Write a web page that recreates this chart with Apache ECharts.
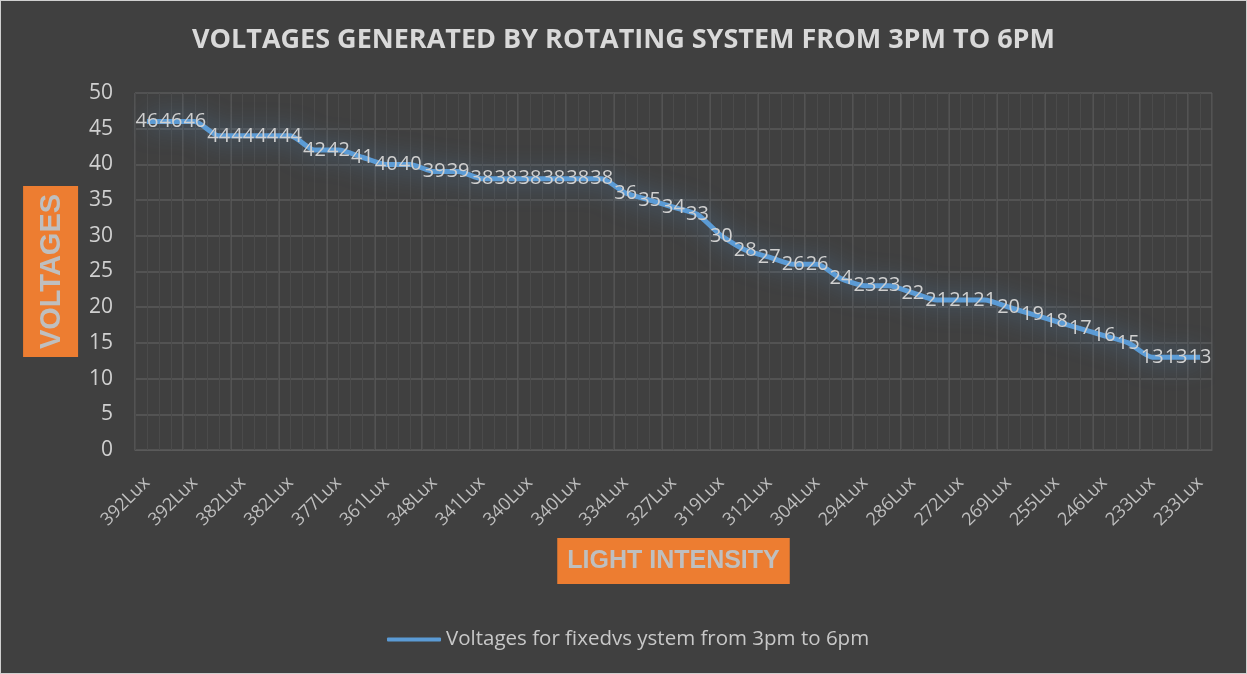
<!DOCTYPE html>
<html lang="en">

<head>
	<meta charset="UTF-8">
	<title>Voltages</title>
	<script src="https://cdn.jsdelivr.net/npm/echarts@6/dist/echarts.min.js"></script>
	<style>
		html, body {
			margin: 0;
			padding: 0;
			background-color: #404040;
		}

		#main {
			width: 1247px;
			height: 674px;
			box-sizing: border-box;
			border: 1px solid #d0d0d0;
		}
	</style>
</head>

<body>
	<div id="main"></div>

	<script>
		// light intensity for each reading (only every other one is labelled on the axis)
		const lux = [
			'392Lux', '', '392Lux', '', '382Lux', '', '382Lux', '', '377Lux', '', '361Lux', '',
			'348Lux', '', '341Lux', '', '340Lux', '', '340Lux', '', '334Lux', '', '327Lux', '',
			'319Lux', '', '312Lux', '', '304Lux', '', '294Lux', '', '286Lux', '', '272Lux', '',
			'269Lux', '', '255Lux', '', '246Lux', '', '233Lux', '', '233Lux'
		];

		const voltages = [
			46, 46, 46, 44, 44, 44, 44, 42, 42, 41, 40, 40, 39, 39, 38, 38, 38, 38, 38, 38,
			36, 35, 34, 33, 30, 28, 27, 26, 26, 24, 23, 23, 22, 21, 21, 21, 20, 19, 18, 17,
			16, 15, 13, 13, 13
		];

		const seriesName = 'Voltages for fixedvs ystem from 3pm to 6pm';
		const titleText = 'VOLTAGES GENERATED BY ROTATING SYSTEM FROM 3PM TO 6PM';

		const myChart = echarts.init(document.getElementById('main'));

		const option = {
			backgroundColor: '#404040',
			animation: false,
			title: {
				text: titleText,
				left: 'center',
				top: 21,
				textStyle: {
					color: '#d9d9d9',
					fontSize: 27,
					fontWeight: 'bold',
					fontFamily: 'Open Sans'
				}
			},
			legend: {
				left: 381,
				top: 623,
				icon: 'roundRect',
				itemWidth: 54,
				itemHeight: 4,
				itemGap: 6,
				itemStyle: { color: '#5b9bd5', opacity: 1 },
				textStyle: {
					color: '#c8c8c8',
					fontSize: 20.5,
					fontFamily: 'Open Sans'
				}
			},
			grid: {
				left: 134,
				right: 34,
				top: 92,
				bottom: 223
			},
			xAxis: [
				{
					type: 'category',
					data: lux,
					boundaryGap: true,
					name: 'LIGHT INTENSITY',
					nameLocation: 'middle',
					nameGap: 88,
					nameTextStyle: {
						color: '#bfbfbf',
						fontSize: 25,
						fontWeight: 'bold',
						fontFamily: 'Liberation Sans',
						backgroundColor: '#ed7d31',
						padding: [11, 10, 10, 10]
					},
					axisLine: { lineStyle: { color: '#5a5a5a' } },
					axisTick: { show: false },
					splitLine: { show: true, lineStyle: { color: '#5a5a5a', width: 1.5 } },
					axisLabel: {
						interval: 1,
						rotate: 45,
						color: '#bfbfbf',
						fontSize: 18,
						fontFamily: 'Open Sans',
						margin: 30
					}
				},
				{
					// faint minor grid between the category lines
					type: 'value',
					min: 0,
					max: lux.length,
					interval: 0.5,
					show: true,
					axisLine: { show: false },
					axisTick: { show: false },
					axisLabel: { show: false },
					splitLine: { show: true, lineStyle: { color: '#4b4b4b' } }
				}
			],
			yAxis: {
				type: 'value',
				min: 0,
				max: 50,
				interval: 5,
				name: 'VOLTAGES',
				nameLocation: 'middle',
				nameRotate: 90,
				nameGap: 32,
				nameTextStyle: {
					color: '#bfbfbf',
					fontSize: 29,
					fontWeight: 'bold',
					fontFamily: 'Liberation Sans',
					backgroundColor: '#ed7d31',
					padding: [14, 8, 12, 8]
				},
				axisLine: { show: false },
				axisTick: { show: false },
				splitLine: { lineStyle: { color: '#5a5a5a', width: 1.5 } },
				axisLabel: {
					color: '#d0d0d0',
					fontSize: 21,
					fontFamily: 'Open Sans',
					margin: 22
				}
			},
			series: [
				{
					name: seriesName,
					type: 'line',
					xAxisIndex: 0,
					data: voltages,
					symbol: 'circle',
					symbolSize: 1,
					showSymbol: true,
					showAllSymbol: true,
					smooth: 0.2,
					itemStyle: { color: 'rgba(0,0,0,0)', borderWidth: 0 },
					lineStyle: {
						color: '#5b9bd5',
						width: 5,
						shadowBlur: 26,
						shadowColor: 'rgba(91, 155, 213, 0.75)'
					},
					label: {
						show: true,
						position: 'inside',
						color: '#d0d0d0',
						fontSize: 20,
						fontFamily: 'Open Sans'
					},
					labelLayout: { hideOverlap: false },
					z: 5
				}
			]
		};

		myChart.setOption(option);
	</script>
</body>

</html>
